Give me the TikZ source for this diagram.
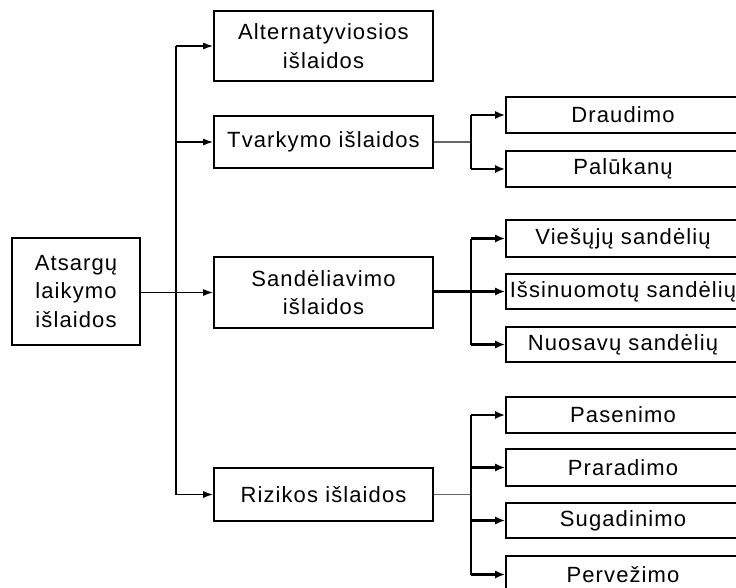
\documentclass[tikz,border=0pt]{standalone}
\usepackage{fontspec}
\setmainfont{Liberation Sans}[LetterSpace=5]
\usetikzlibrary{arrows.meta}
\begin{document}
\begin{tikzpicture}[x=1pt,y=-1pt,
  box/.style={draw=black, line width=1.6pt, rectangle, inner sep=0pt, align=center,
    font=\fontsize{22}{28.5}\selectfont},
  lvone/.style={box, minimum width=219pt},
  lvtwo/.style={box, minimum width=234pt},
  trunk/.style={draw=black, line width=1.5pt},
  greyline/.style={draw=black!60, line width=1.3pt},
  arr/.style={draw=black, line width=1.5pt, -{Latex[length=10pt,width=7pt]}},
  thickarr/.style={draw=black, line width=2.8pt, -{Latex[length=10pt,width=8pt]}},
  bracket/.style={draw=black, line width=1.3pt}]
\useasboundingbox (0,0) rectangle (736,587);
\clip (0,0) rectangle (736,587);
\fill[white] (0,0) rectangle (736,587);

% root
\node[box, minimum width=128pt, minimum height=107pt] (root) at (76,291.5) {Atsargų\\laikymo\\išlaidos};

% level one
\node[lvone, minimum height=70pt] (alt) at (323.5,46) {Alternatyviosios\\išlaidos};
\node[lvone, minimum height=52pt] (tv) at (323.5,142) {Tvarkymo išlaidos};
\node[lvone, minimum height=71pt] (sand) at (323.5,292.5) {Sandėliavimo\\išlaidos};
\node[lvone, minimum height=53pt] (riz) at (323.5,494.5) {Rizikos išlaidos};

% level two
\node[lvtwo, minimum height=36pt] (dr) at (623,115) {Draudimo};
\node[lvtwo, minimum height=36pt] (pal) at (623,169) {Palūkanų};
\node[lvtwo, minimum height=37pt] (vie) at (623,238.5) {Viešųjų sandėlių};
\node[lvtwo, minimum height=35pt] (isn) at (623,291.5) {Išsinuomotų sandėlių};
\node[lvtwo, minimum height=35pt] (nuo) at (623,344.5) {Nuosavų sandėlių};
\node[lvtwo, minimum height=36pt] (pas) at (623,415) {Pasenimo};
\node[lvtwo, minimum height=37pt] (pra) at (623,467.5) {Praradimo};
\node[lvtwo, minimum height=35pt] (sug) at (623,520.5) {Sugadinimo};
\node[lvtwo, minimum height=37pt] (per) at (623,574.5) {Pervežimo};

% trunk
\coordinate (t) at (176,0);
\draw[trunk] (alt.west -| t) -- (riz.west -| t);
\draw[arr] (sand.west -| root.east) -- (sand.west);
\draw[arr] (alt.west -| t) -- (alt.west);
\draw[arr] (tv.west -| t) -- (tv.west);
\draw[arr] (riz.west -| t) -- (riz.west);

% brackets
\coordinate (b) at (471,0);
% Tvarkymo
\draw[greyline] (tv.east) -- (tv.east -| b);
\draw[bracket] (dr.west -| b) -- (pal.west -| b);
\draw[thickarr] (dr.west -| b) -- (dr.west);
\draw[thickarr] (pal.west -| b) -- (pal.west);
% Sandeliavimo
\draw[bracket] (vie.west -| b) -- (nuo.west -| b);
\draw[draw=black, line width=2.8pt] (isn.west -| sand.east) -- (isn.west -| b);
\draw[thickarr] (vie.west -| b) -- (vie.west);
\draw[thickarr] (isn.west -| b) -- (isn.west);
\draw[thickarr] (nuo.west -| b) -- (nuo.west);
% Rizikos
\draw[greyline] (riz.east) -- (riz.east -| b);
\draw[bracket] (pas.west -| b) -- (per.west -| b);
\draw[thickarr] (pas.west -| b) -- (pas.west);
\draw[thickarr] (pra.west -| b) -- (pra.west);
\draw[thickarr] (sug.west -| b) -- (sug.west);
\draw[thickarr] (per.west -| b) -- (per.west);
\end{tikzpicture}
\end{document}
